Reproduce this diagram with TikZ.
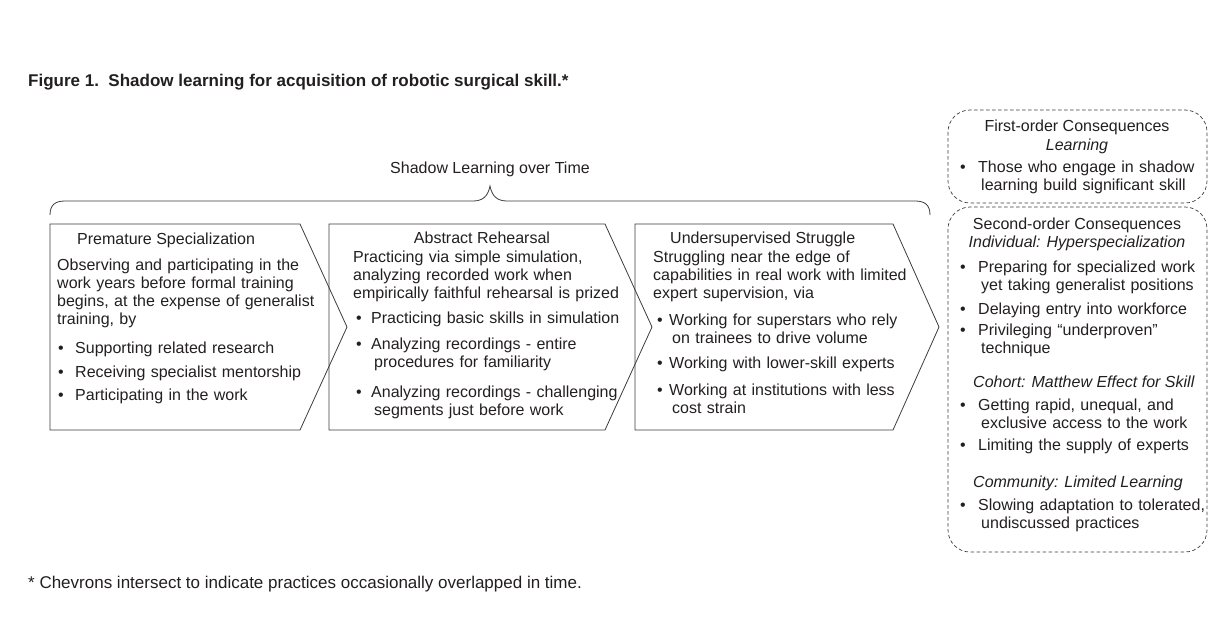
\documentclass[tikz,border=0pt]{standalone}
\usepackage{fontspec}
\setmainfont{Liberation Sans}
\definecolor{linec}{HTML}{3C3C3C}
\definecolor{textc}{HTML}{231F20}
\newcommand{\bodyfont}{\fontsize{16}{18}\selectfont}

\begin{document}
\begin{tikzpicture}[x=1pt,y=-1pt,
    chev/.style={draw=linec,line width=0.8pt},
    cons/.style={draw=linec,line width=0.7pt,dash pattern=on 3.5pt off 2.5pt,rounded corners=22pt},
    txt/.style={font=\bodyfont,text=textc,inner sep=0pt,anchor=base west,align=left,text width=300pt},
    hd/.style={font=\bodyfont,text=textc,inner sep=0pt,anchor=base},
    dot/.style={font=\bodyfont,text=textc,inner sep=0pt,anchor=base west}]
    \useasboundingbox (0,0) rectangle (1220,624);
    \node[dot,font=\fontsize{17}{20}\selectfont\bfseries] (title) at (28,86)
        {Figure 1.\ \ Shadow learning for acquisition of robotic surgical skill.*};
    % brace over the chevrons
    \draw[chev] (50,215) .. controls (50,205) and (55,201) .. (65,201) -- (473,201)
        .. controls (483,201) and (488,196) .. (490,186)
        .. controls (492,196) and (497,201) .. (507,201) -- (915,201)
        .. controls (925,201) and (930,205) .. (930,215);
    \node[hd] (time) at (490,173) {Shadow Learning over Time};
    % chevrons
    \draw[chev] (50,224) -- (300,224) -- (347,327) -- (300,430) -- (50,430) -- cycle;
    \draw[chev] (329,224) -- (605,224) -- (652,327) -- (605,430) -- (329,430) -- cycle;
    \draw[chev] (635,224) -- (893,224) -- (939,327) -- (893,430) -- (635,430) -- cycle;
    % premature specialization
    \node[dot] (ps) at (77,244) {Premature Specialization};
    \node[txt] (psa) at (57,270) {Observing and participating in the\\work years before formal training\\begins, at the expense of generalist\\training, by};
    \node[dot] (psb1) at (58,353) {\textbullet};
    \node[txt] (psi1) at (75,353) {Supporting related research};
    \node[dot] (psb2) at (58,377) {\textbullet};
    \node[txt] (psi2) at (75,377) {Receiving specialist mentorship};
    \node[dot] (psb3) at (58,400) {\textbullet};
    \node[txt] (psi3) at (75,400) {Participating in the work};
    % abstract rehearsal
    \node[hd] (ar) at (482,243) {Abstract Rehearsal};
    \node[txt] (ara) at (353,262) {Practicing via simple simulation,\\analyzing recorded work when\\empirically faithful rehearsal is prized};
    \node[dot] (arb1) at (356,323) {\textbullet};
    \node[txt] (ari1) at (371,323) {Practicing basic skills in simulation};
    \node[dot] (arb2) at (356,349) {\textbullet};
    \node[txt] (ari2) at (371,349) {Analyzing recordings - entire\\\hspace*{3pt}procedures for familiarity};
    \node[dot] (arb3) at (356,397) {\textbullet};
    \node[txt] (ari3) at (371,397) {Analyzing recordings - challenging\\\hspace*{3pt}segments just before work};
    % undersupervised struggle
    \node[dot] (us) at (670,243) {Undersupervised Struggle};
    \node[txt] (usa) at (653,262) {Struggling near the edge of\\capabilities in real work with limited\\expert supervision, via};
    \node[dot] (usb1) at (657,325) {\textbullet};
    \node[txt] (usi1) at (669,325) {Working for superstars who rely\\\hspace*{3pt}on trainees to drive volume};
    \node[dot] (usb2) at (657,368) {\textbullet};
    \node[txt] (usi2) at (669,368) {Working with lower-skill experts};
    \node[dot] (usb3) at (657,395) {\textbullet};
    \node[txt] (usi3) at (669,395) {Working at institutions with less\\\hspace*{3pt}cost strain};
    % consequences
    \draw[cons] (948,110) rectangle (1207,203);
    \draw[cons] (948,207) rectangle (1207,552);
    \node[hd] (fo) at (1077,131) {First-order Consequences};
    \node[hd] (fol) at (1077,150) {\itshape Learning};
    \node[dot] (fob1) at (960,172) {\textbullet};
    \node[txt] (foi1) at (978,172) {Those who engage in shadow\\\hspace*{3pt}learning build significant skill};
    \node[hd] (so) at (1077,229) {Second-order Consequences};
    \node[hd] (soi) at (1077,247) {\itshape Individual: Hyperspecialization};
    \node[dot] (sob1) at (960,272) {\textbullet};
    \node[txt] (soi1) at (978,272) {Preparing for specialized work\\\hspace*{3pt}yet taking generalist positions};
    \node[dot] (sob2) at (960,314) {\textbullet};
    \node[txt] (soi2) at (978,314) {Delaying entry into workforce};
    \node[dot] (sob3) at (960,335) {\textbullet};
    \node[txt] (soi3) at (978,335) {Privileging ``underproven''\\\hspace*{3pt}technique};
    \node[dot] (soc) at (973,387) {\itshape Cohort: Matthew Effect for Skill};
    \node[dot] (sob4) at (960,410) {\textbullet};
    \node[txt] (soi4) at (978,410) {Getting rapid, unequal, and\\\hspace*{3pt}exclusive access to the work};
    \node[dot] (sob5) at (960,450) {\textbullet};
    \node[txt] (soi5) at (978,450) {Limiting the supply of experts};
    \node[dot] (som) at (973,487) {\itshape Community: Limited Learning};
    \node[dot] (sob6) at (960,510) {\textbullet};
    \node[txt] (soi6) at (978,510) {Slowing adaptation to tolerated,\\\hspace*{3pt}undiscussed practices};
    % footnote
    \node[dot,font=\fontsize{17}{20}\selectfont] (note) at (28,588) {* Chevrons intersect to indicate practices occasionally overlapped in time.};
\end{tikzpicture}
\end{document}
